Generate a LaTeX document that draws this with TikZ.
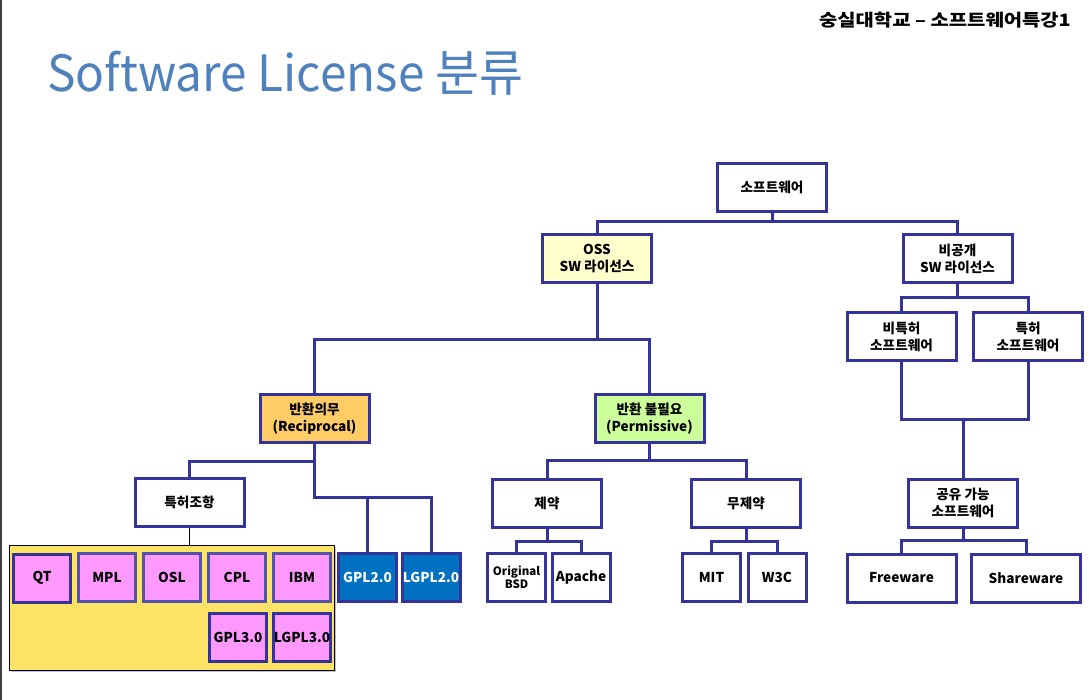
\documentclass[tikz,border=0pt]{standalone}
\usepackage{graphicx}
\usepackage{fontspec}
\setmainfont{Noto Sans CJK KR}
\definecolor{lineblue}{HTML}{333399}
\definecolor{ossfill}{HTML}{FFFFCC}
\definecolor{recfill}{HTML}{FFCC66}
\definecolor{permfill}{HTML}{CCFF99}
\definecolor{yarea}{HTML}{FCE366}
\definecolor{pinkfill}{HTML}{FF99FF}
\definecolor{gblue}{HTML}{0070C0}
\definecolor{titleblue}{HTML}{4F81BD}
\begin{document}
\begin{tikzpicture}[x=1pt,y=-1pt,
  box/.style={draw=lineblue, line width=3pt, fill=white, minimum width=109pt, minimum height=48pt,
    inner sep=0pt, align=center, font=\bfseries\fontsize{13.6}{17}\selectfont},
  smallbox/.style={box, minimum width=58pt},
  pinkbox/.style={smallbox, fill=pinkfill, minimum width=57pt},
  pinkthin/.style={pinkbox, line width=2.2pt, draw=lineblue!85!white},
  bluebox/.style={smallbox, fill=gblue, text=white},
  link/.style={draw=lineblue, line width=3pt}]
\useasboundingbox (0,0) rectangle (1089,700);
\fill[white] (0,0) rectangle (1089,700);
\fill[black!75] (0,0) rectangle (2,700);
% header and title
\node[anchor=base east, inner sep=0pt, font=\bfseries\fontsize{17}{20}\selectfont] (hdr) at (1071,27) {\scalebox{1.17}[1]{숭실대학교 – 소프트웨어특강1}};
\node[anchor=base west, inner sep=0pt, text=titleblue, font=\fontsize{50}{60}\selectfont] (title) at (47,92) {\scalebox{0.955}[1]{Software License 분류}};
% yellow area
\fill[black!25] (11,547) rectangle (336,672);
\node[draw=black, line width=1pt, fill=yarea, minimum width=325pt, minimum height=125pt, inner sep=0pt] (area) at (171.5,607.5) {};
% boxes
\node[box] (sw) at (772,187.5) {소프트웨어};
\node[box, fill=ossfill] (oss) at (597,258.5) {OSS\\SW 라이선스};
\node[box] (priv) at (957.5,258.5) {비공개\\SW 라이선스};
\node[box] (nonpat) at (901.5,336.5) {비특허\\소프트웨어};
\node[box] (pat) at (1028,336.5) {특허\\소프트웨어};
\node[box, fill=recfill] (recip) at (314.5,418.5) {반환의무\\(Reciprocal)};
\node[box, fill=permfill] (perm) at (649.5,418.5) {반환 불필요\\(Permissive)};
\node[box] (patcl) at (189.5,502.5) {특허조항};
\node[box] (restr) at (547,503) {제약};
\node[box] (nores) at (746,503) {무제약};
\node[box] (share) at (963,503) {공유 가능\\소프트웨어};
\node[smallbox, font=\bfseries\fontsize{11.5}{13}\selectfont] (bsd) at (516.5,577.5) {Original\\BSD};
\node[smallbox] (apache) at (581,577.5) {Apache};
\node[smallbox] (mit) at (711.5,577.5) {MIT};
\node[smallbox] (w3c) at (777,577.5) {W3C};
\node[box] (free) at (901.5,578) {Freeware};
\node[box] (sharew) at (1026,578) {Shareware};
\node[bluebox] (gpl2) at (367.5,577.5) {GPL2.0};
\node[bluebox] (lgpl2) at (431,577.5) {LGPL2.0};
\node[pinkbox] (qt) at (42,578) {QT};
\node[pinkthin] (mpl) at (107,577.5) {MPL};
\node[pinkthin] (osl) at (172,577.5) {OSL};
\node[pinkthin] (cpl) at (237,577.5) {CPL};
\node[pinkthin] (ibm) at (302,577.5) {IBM};
\node[pinkbox] (gpl3) at (238,637) {GPL3.0};
\node[pinkbox] (lgpl3) at (302,637) {LGPL3.0};
% connectors
\draw[link] (sw.south) -- (sw.south |- 0,222);
\draw[link] (oss.north) -- (oss.north |- 0,222) -- (priv.north |- 0,222) -- (priv.north);
\draw[link] (recip.north) -- (recip.north |- 0,340) -- (perm.north |- 0,340) -- (perm.north);
\draw[link] (oss.south) -- (oss.south |- 0,340);
\draw[link] (nonpat.north) -- (nonpat.north |- 0,298) -- (pat.north |- 0,298) -- (pat.north);
\draw[link] (priv.south) -- (priv.south |- 0,298);
\draw[link] (nonpat.south) -- (nonpat.south |- 0,419) -- (pat.south |- 0,419) -- (pat.south);
\draw[link] (share.north) -- (share.north |- 0,419);
\draw[link] (patcl.north) -- (patcl.north |- 0,461) -- (recip.south |- 0,461);
\draw[link] (recip.south) -- (recip.south |- 0,497) -- (lgpl2.north |- 0,497) -- (lgpl2.north);
\draw[link] (gpl2.north) -- (gpl2.north |- 0,497);
\draw[black, line width=1.5pt] (patcl.south) -- (patcl.south |- area.north);
\draw[link] (restr.north) -- (restr.north |- 0,460) -- (nores.north |- 0,460) -- (nores.north);
\draw[link] (perm.south) -- (perm.south |- 0,460);
\draw[link] (bsd.north) -- (bsd.north |- 0,541) -- (apache.north |- 0,541) -- (apache.north);
\draw[link] (restr.south) -- (restr.south |- 0,541);
\draw[link] (mit.north) -- (mit.north |- 0,541) -- (w3c.north |- 0,541) -- (w3c.north);
\draw[link] (nores.south) -- (nores.south |- 0,541);
\draw[link] (free.north) -- (free.north |- 0,540) -- (sharew.north |- 0,540) -- (sharew.north);
\draw[link] (share.south) -- (share.south |- 0,540);
\end{tikzpicture}
\end{document}
